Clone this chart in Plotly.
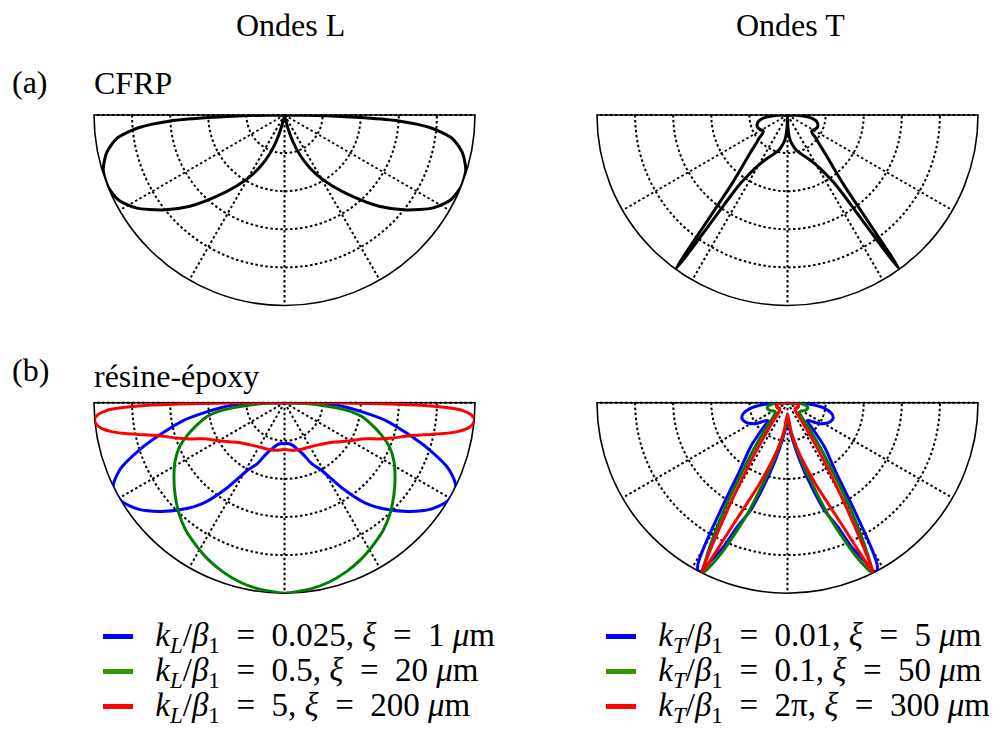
import plotly.graph_objects as go

# Angles in degrees (0 = east, counterclockwise, 270 = straight down).
# Each curve is listed for the left half (180..270) and mirrored for the right.

# (a) CFRP, ondes L
cfrp_L_theta = [180, 181, 182, 183, 185, 188, 192, 197, 202, 207, 212, 218, 224,
                230, 236, 242, 247, 251, 254, 257, 260, 270]
cfrp_L_r = [0, 0.22, 0.42, 0.6, 0.77, 0.89, 0.955, 0.995, 1.0, 0.98, 0.92, 0.81, 0.69,
            0.56, 0.45, 0.35, 0.26, 0.18, 0.11, 0.03, 0, 0]

# (a) CFRP, ondes T
cfrp_T_theta = [180, 182, 184, 187, 191, 196, 201, 206, 210, 213, 216, 219, 222, 226,
                229, 231, 232.3, 233.1, 233.6, 234, 234.3, 234.5, 234.7, 235, 235.6,
                236.5, 238.5, 241, 245, 250, 256, 261, 265, 268, 270]
cfrp_T_r = [0, 0.05, 0.09, 0.125, 0.15, 0.165, 0.17, 0.165, 0.157, 0.153, 0.16, 0.19,
            0.22, 0.29, 0.37, 0.46, 0.6, 0.75, 0.9, 1.0, 0.9, 0.75, 0.6, 0.5, 0.43,
            0.39, 0.33, 0.29, 0.25, 0.22, 0.19, 0.155, 0.12, 0.06, 0]

# (b) résine-époxy, ondes L
epoxy_L_theta = {
    "blue": [180, 181, 182.5, 184, 187, 190, 194, 198, 202, 206, 211, 216, 221, 226,
             231, 236, 241, 246, 250, 255, 260, 265, 270],
    "green": [180, 182, 184, 187, 190, 194, 198, 203, 208, 214, 220, 226, 232, 238,
              244, 250, 256, 262, 270],
    "red": [180, 180.3, 180.7, 181.2, 181.8, 182.6, 183.6, 185, 186.5, 188, 189.5, 191,
            193, 195.5, 198, 201, 205, 210, 216, 223, 231, 240, 250, 258, 264, 270],
}
epoxy_L_r = {
    "blue": [0, 0.12, 0.26, 0.32, 0.42, 0.54, 0.66, 0.8, 0.93, 1.0, 1.0, 0.95, 0.87,
             0.78, 0.68, 0.54, 0.41, 0.35, 0.29, 0.25, 0.225, 0.215, 0.215],
    "green": [0, 0.09, 0.19, 0.33, 0.41, 0.47, 0.53, 0.6, 0.65, 0.7, 0.75, 0.8, 0.845,
              0.88, 0.915, 0.945, 0.97, 0.987, 1.0],
    "red": [0, 0.3, 0.55, 0.75, 0.86, 0.94, 0.98, 1.0, 0.995, 0.97, 0.92, 0.85, 0.75,
            0.66, 0.6, 0.53, 0.45, 0.4, 0.35, 0.31, 0.285, 0.268, 0.26, 0.255, 0.25,
            0.245],
}

# (b) résine-époxy, ondes T
epoxy_T_theta = {
    "blue": [180, 182, 185, 189, 194, 199, 204, 209, 214, 219, 223, 226, 230, 235, 238,
             240, 241, 242, 243, 244, 246, 248, 251, 254, 258, 263, 267, 270],
    "green": [180, 182, 185, 189, 194, 199, 204, 209, 214, 219, 224, 229, 234, 237, 239,
              241, 242.5, 243.5, 244.5, 246, 248, 250.5, 253, 256, 260, 265, 270],
    "red": [180, 183, 188, 195, 205, 215, 225, 232, 237, 240, 242, 243.2, 244.5, 246,
            248.5, 251, 254, 258, 263, 270],
}
epoxy_T_r = {
    "blue": [0, 0.07, 0.14, 0.2, 0.24, 0.253, 0.245, 0.225, 0.195, 0.15, 0.14, 0.19, 0.3,
             0.44, 0.65, 0.88, 0.97, 1.0, 0.99, 0.93, 0.83, 0.7, 0.6, 0.46, 0.31, 0.18,
             0.12, 0.1],
    "green": [0, 0.05, 0.08, 0.1, 0.11, 0.108, 0.1, 0.09, 0.08, 0.08, 0.1, 0.16, 0.3,
              0.45, 0.62, 0.8, 0.93, 1.0, 0.96, 0.88, 0.75, 0.6, 0.45, 0.33, 0.22, 0.13,
              0.08],
    "red": [0, 0.03, 0.05, 0.06, 0.06, 0.05, 0.06, 0.12, 0.3, 0.55, 0.82, 1.0, 0.85, 0.7,
            0.55, 0.45, 0.35, 0.25, 0.15, 0.06],
}

EQ = "&#8197; = &#8197;"
labels_L = {
    "blue": f"<i>k</i><sub><i>L</i></sub>/<i>β</i><sub>1</sub>{EQ}0.025, <i>ξ</i>{EQ}1 <i>μ</i>m",
    "green": f"<i>k</i><sub><i>L</i></sub>/<i>β</i><sub>1</sub>{EQ}0.5, <i>ξ</i>{EQ}20 <i>μ</i>m",
    "red": f"<i>k</i><sub><i>L</i></sub>/<i>β</i><sub>1</sub>{EQ}5, <i>ξ</i>{EQ}200 <i>μ</i>m",
}
labels_T = {
    "blue": f"<i>k</i><sub><i>T</i></sub>/<i>β</i><sub>1</sub>{EQ}0.01, <i>ξ</i>{EQ}5 <i>μ</i>m",
    "green": f"<i>k</i><sub><i>T</i></sub>/<i>β</i><sub>1</sub>{EQ}0.1, <i>ξ</i>{EQ}50 <i>μ</i>m",
    "red": f"<i>k</i><sub><i>T</i></sub>/<i>β</i><sub>1</sub>{EQ}2π, <i>ξ</i>{EQ}300 <i>μ</i>m",
}
colors = {"blue": "#0000ff", "green": "#008000", "red": "#ff0000"}
legend_colors = {"blue": "#0000ff", "green": "#349400", "red": "#ff0000"}

W, H = 997, 738
OFF = 8  # the page body adds an 8px margin around the plot
FONT = "Liberation Serif"


def px_x(x):
    return (x - OFF) / W


def px_y(y):
    return 1 - (y - OFF) / H


def mirror(theta, r):
    # symmetric pattern about the vertical axis
    full_t = list(theta) + [540 - t for t in reversed(theta[:-1])]
    full_r = list(r) + list(reversed(r[:-1]))
    return full_t, full_r


def polar_axes(x0, x1, y0, y1):
    grid = dict(gridcolor="black", gridwidth=1.8, griddash="2.5px,2.5px",
                showticklabels=False, ticks="", layer="below traces")
    return dict(
        domain=dict(x=[px_x(x0), px_x(x1)], y=[px_y(y1), px_y(y0)]),
        sector=[180, 360],
        bgcolor="white",
        radialaxis=dict(range=[0, 1], tickvals=[0.2, 0.4, 0.6, 0.8], showline=False, **grid),
        angularaxis=dict(rotation=0, direction="counterclockwise", tickmode="linear",
                         tick0=0, dtick=30, showline=True, linecolor="black",
                         linewidth=1.6, **grid),
    )


def curve(theta, r, subplot, color):
    t, rr = mirror(theta, r)
    return go.Scatterpolar(theta=t, r=rr, mode="lines", subplot=subplot,
                           line=dict(color=color, width=3, shape="spline", smoothing=0.7),
                           showlegend=False, cliponaxis=False, hoverinfo="skip")


def legend_entry(label, subplot, legend, color):
    # empty trace so the legend swatch can be drawn thicker than the curve
    return go.Scatterpolar(theta=[None], r=[None], mode="lines", subplot=subplot,
                           name="&nbsp;&nbsp;&#8201;<span style='font-size:33px'>" + label + "</span>",
                           legend=legend, line=dict(color=color, width=5))


fig = go.Figure()
fig.add_trace(curve(cfrp_L_theta, cfrp_L_r, "polar", "black"))
fig.add_trace(curve(cfrp_T_theta, cfrp_T_r, "polar2", "black"))
for key in ["blue", "green", "red"]:
    fig.add_trace(curve(epoxy_L_theta[key], epoxy_L_r[key], "polar3", colors[key]))
for key in ["blue", "green", "red"]:
    fig.add_trace(curve(epoxy_T_theta[key], epoxy_T_r[key], "polar4", colors[key]))
for key in ["blue", "green", "red"]:
    fig.add_trace(legend_entry(labels_L[key], "polar3", "legend", legend_colors[key]))
for key in ["blue", "green", "red"]:
    fig.add_trace(legend_entry(labels_T[key], "polar4", "legend2", legend_colors[key]))

legend_style = dict(font=dict(family=FONT, size=24.6, color="black"),
                    bgcolor="rgba(0,0,0,0)", xanchor="left", yanchor="top", itemwidth=30)

fig.update_layout(
    width=W, height=H,
    margin=dict(l=0, r=0, t=0, b=0),
    paper_bgcolor="white",
    font=dict(family=FONT, color="black"),
    showlegend=True,
    polar=polar_axes(94, 475, 115, 305.5),
    polar2=polar_axes(597, 978, 115, 305.5),
    polar3=polar_axes(94, 475, 402.7, 593.2),
    polar4=polar_axes(597, 978, 402.7, 593.2),
    legend=dict(x=px_x(98), y=px_y(614), **legend_style),
    legend2=dict(x=px_x(601), y=px_y(614), **legend_style),
)

texts = [
    ("Ondes L", 290, 25, "center"),
    ("Ondes T", 790, 25, "center"),
    ("(a)", 10, 82, "left"),
    ("CFRP", 92, 83, "left"),
    ("(b)", 10, 370, "left"),
    ("résine-époxy", 92, 376, "left"),
]
for txt, x, y, anchor in texts:
    fig.add_annotation(text=txt, x=px_x(x), y=px_y(y), xref="paper", yref="paper",
                       xanchor=anchor, yanchor="middle", showarrow=False,
                       font=dict(family=FONT, size=32, color="black"))

fig.write_html("out.html")
